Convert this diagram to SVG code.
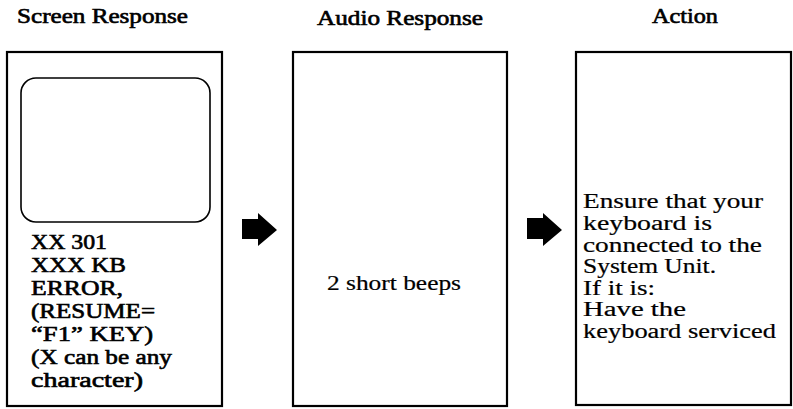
<svg xmlns="http://www.w3.org/2000/svg" width="793" height="409" viewBox="0 0 793 409">
<style>
  .box { fill: #fff; stroke: #000; stroke-width: 2.2; }
  .screen { fill: none; stroke: #000; stroke-width: 1.6; }
  .hdr { font-family: "Liberation Serif", "Times New Roman", serif; font-size: 20px; fill: #000; stroke: #000; stroke-width: 0.6; }
  .b { font-family: "Liberation Serif", "Times New Roman", serif; font-size: 20px; fill: #000; stroke: #000; stroke-width: 0.6; }
  .r { font-family: "Liberation Serif", "Times New Roman", serif; font-size: 20px; fill: #000; stroke: #000; stroke-width: 0.2; }
  .arrow { fill: #000; }
</style>
<rect width="793" height="409" fill="#fff"/>

<g id="screen-response">
  <text class="hdr" x="17" y="23" textLength="171" lengthAdjust="spacingAndGlyphs">Screen Response</text>
  <rect class="box" x="7" y="52" width="215" height="354"/>
  <rect class="screen" x="21" y="78" width="189" height="144" rx="15" ry="15"/>
  <text class="b" x="31" y="249" textLength="76" lengthAdjust="spacingAndGlyphs">XX 301</text>
  <text class="b" x="31" y="272" textLength="95" lengthAdjust="spacingAndGlyphs">XXX KB</text>
  <text class="b" x="31" y="295" textLength="92" lengthAdjust="spacingAndGlyphs">ERROR,</text>
  <text class="b" x="31" y="318" textLength="124" lengthAdjust="spacingAndGlyphs">(RESUME=</text>
  <text class="b" x="31" y="341" textLength="122" lengthAdjust="spacingAndGlyphs">“F1” KEY)</text>
  <text class="b" x="31" y="364" textLength="141" lengthAdjust="spacingAndGlyphs">(X can be any</text>
  <text class="b" x="31" y="387" textLength="112" lengthAdjust="spacingAndGlyphs">character)</text>
</g>

<g id="audio-response">
  <text class="hdr" x="317" y="25" textLength="166" lengthAdjust="spacingAndGlyphs">Audio Response</text>
  <rect class="box" x="293" y="52" width="214" height="354"/>
  <text class="r" x="327" y="290" textLength="134" lengthAdjust="spacingAndGlyphs">2 short beeps</text>
</g>

<g id="action">
  <text class="hdr" x="652" y="23" textLength="66" lengthAdjust="spacingAndGlyphs">Action</text>
  <rect class="box" x="576" y="52" width="215" height="353"/>
  <text class="r" x="583" y="208" textLength="180" lengthAdjust="spacingAndGlyphs">Ensure that your</text>
  <text class="r" x="583" y="230" textLength="129" lengthAdjust="spacingAndGlyphs">keyboard is</text>
  <text class="r" x="583" y="252" textLength="179" lengthAdjust="spacingAndGlyphs">connected to the</text>
  <text class="r" x="583" y="273" textLength="133" lengthAdjust="spacingAndGlyphs">System Unit.</text>
  <text class="r" x="583" y="295" textLength="72" lengthAdjust="spacingAndGlyphs">If it is:</text>
  <text class="r" x="583" y="316" textLength="103" lengthAdjust="spacingAndGlyphs">Have the</text>
  <text class="r" x="583" y="338" textLength="193" lengthAdjust="spacingAndGlyphs">keyboard serviced</text>
</g>

<g id="connectors">
  <polygon class="arrow" points="242,219 258,219 258,213 277,230 258,246 258,239 242,239"/>
  <polygon class="arrow" points="527,218 543,218 543,213 562,230 543,246 543,239 527,239"/>
</g>
</svg>
